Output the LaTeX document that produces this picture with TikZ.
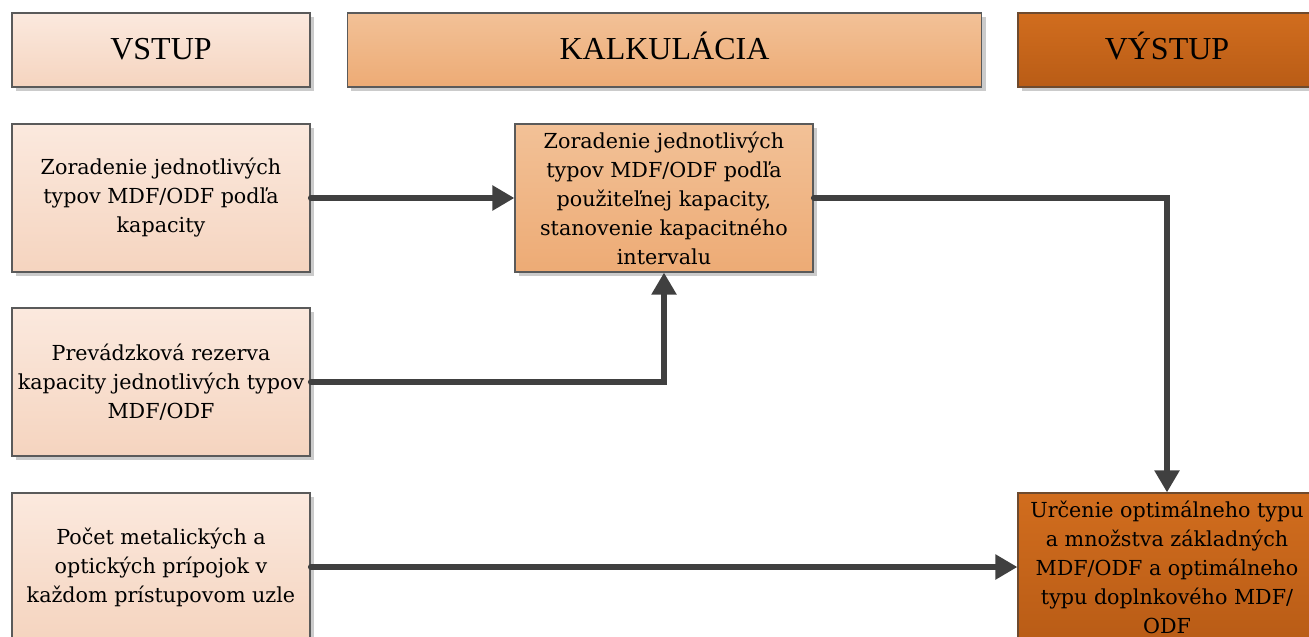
\documentclass[tikz,border=0pt]{standalone}
\usepackage{fontspec}
\setmainfont{DejaVu Serif}
\newfontfamily\hfont{Liberation Serif}
\usetikzlibrary{arrows.meta,shadows}
\definecolor{lighttop}{HTML}{FBE9DE}
\definecolor{lightbot}{HTML}{F5D4BF}
\definecolor{midtop}{HTML}{F2C197}
\definecolor{midbot}{HTML}{EDAB75}
\definecolor{darktop}{HTML}{D16D1E}
\definecolor{darkbot}{HTML}{B95C16}
\definecolor{bordergray}{HTML}{5A5A5A}
\definecolor{borderbrown}{HTML}{6E4A2E}
\definecolor{arrowgray}{HTML}{404040}
\definecolor{shadowgray}{HTML}{CBCBCB}
\tikzset{
  basebox/.style={draw=bordergray, line width=0.9pt, align=center, inner sep=2pt,
    drop shadow={shadow xshift=3pt, shadow yshift=-3pt, fill=shadowgray, opacity=1}},
  lightbox/.style={basebox, top color=lighttop, bottom color=lightbot},
  midbox/.style={basebox, top color=midtop, bottom color=midbot},
  darkbox/.style={basebox, draw=borderbrown, top color=darktop, bottom color=darkbot},
  header/.style={minimum height=55.5pt, text height=16pt, text depth=2pt, font=\hfont\fontsize{24}{28}\selectfont},
  body/.style={minimum width=223.5pt, minimum height=111pt, font=\fontsize{15.5}{21.75}\selectfont},
  conn/.style={draw=arrowgray, line width=4pt, line cap=round, line join=miter,
    -{Triangle[width=18pt,length=16.5pt]}}
}
\begin{document}
\begin{tikzpicture}[x=0.75pt,y=-0.75pt]
\useasboundingbox (0,0) rectangle (1309,636);
\clip (0,0) rectangle (1309,636);
% headers
\node[lightbox, header, minimum width=223.5pt] (h1) at (161,50) {VSTUP};
\node[midbox, header, minimum width=476pt] (h2) at (664.5,50) {KALKULÁCIA};
\node[darkbox, header, minimum width=223.5pt] (h3) at (1167,50) {VÝSTUP};
% input boxes
\node[lightbox, body] (b1) at (161,198) {Zoradenie jednotlivých\\typov MDF/ODF podľa\\kapacity};
\node[lightbox, body] (b2) at (161,382) {Prevádzková rezerva\\kapacity jednotlivých typov\\MDF/ODF};
\node[lightbox, body] (b3) at (161,567) {Počet metalických a\\optických prípojok v\\každom prístupovom uzle};
% calculation
\node[midbox, body] (m) at (664,198) {Zoradenie jednotlivých\\typov MDF/ODF podľa\\použiteľnej kapacity,\\stanovenie kapacitného\\intervalu};
% output
\node[darkbox, body] (o) at (1167,567) {Určenie optimálneho typu\\a množstva základných\\MDF/ODF a optimálneho\\typu doplnkového MDF/\\ODF};
% connectors
\draw[conn] (b1.east) -- (m.west);
\draw[conn] (b2.east) -| (m.south);
\draw[conn] (m.east) -| (o.north);
\draw[conn] (b3.east) -- (o.west);
\end{tikzpicture}
\end{document}
